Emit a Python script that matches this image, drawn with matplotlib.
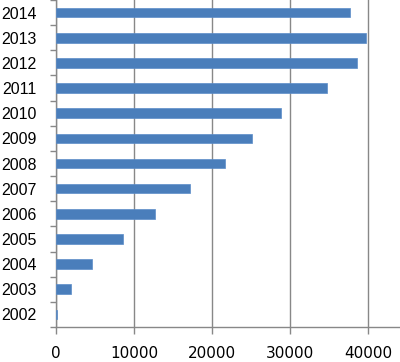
import matplotlib
matplotlib.use("Agg")
import matplotlib.pyplot as plt
import numpy as np

years = ["2002", "2003", "2004", "2005", "2006", "2007", "2008",
         "2009", "2010", "2011", "2012", "2013", "2014"]
values = [170, 1880, 4650, 8580, 12680, 17160, 21640,
          25140, 28850, 34660, 38540, 39650, 37640]
xticks = [0, 10000, 20000, 30000, 40000]

fig = plt.figure(figsize=(4.0, 3.62), dpi=100)
ax = fig.add_axes([56/400, 35/362, 1 - 56/400, 1 - 35/362])

pos = np.arange(len(years))
ax.barh(pos, values, height=0.38, color="#4A7EBB", edgecolor="#5B8CC8",
        linewidth=0.5, zorder=3)

ax.set_xlim(0, 44050)
ax.set_ylim(-0.5, len(years) - 0.5)

ax.set_xticks(xticks)
ax.set_xticklabels([str(v) for v in xticks], fontsize=11,
                   family=["DejaVu Sans"])
ax.set_yticks(pos)
ax.set_yticklabels(years, fontsize=11.5, family=["Liberation Sans"])
ax.set_yticks(np.arange(len(years) + 1) - 0.5, minor=True)

ax.tick_params(axis="y", which="major", length=0, pad=14, colors="black")
ax.tick_params(axis="y", which="minor", length=4.5, width=1, color="#888888", direction="out")
ax.tick_params(axis="x", which="major", length=5, width=1, color="#888888",
               pad=9, labelcolor="black")

ax.grid(axis="x", color="#888888", linewidth=1, zorder=0)
for s in ["top", "right"]:
    ax.spines[s].set_visible(False)
for s in ["left", "bottom"]:
    ax.spines[s].set_color("#888888")
    ax.spines[s].set_linewidth(1)

fig.savefig("out.png", dpi=100)
